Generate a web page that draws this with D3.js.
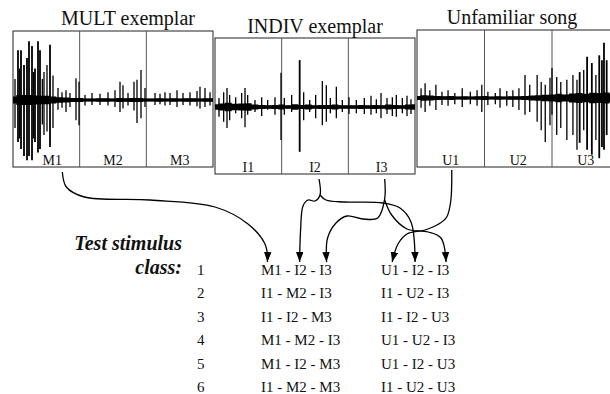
<!DOCTYPE html>
<html><head><meta charset="utf-8">
<script src="https://cdn.jsdelivr.net/npm/d3@7"></script>
<style>
body{margin:0;background:#fff}
svg{display:block}
text{font-family:"Liberation Serif","Times New Roman",serif;fill:#111}
</style>
</head><body>
<svg id="c" width="610" height="394"></svg>
<script>
// ---------- data ----------
const songTitles = ["MULT exemplar", "INDIV exemplar", "Unfamiliar song"];
const segLabels = [["M1","M2","M3"],["I1","I2","I3"],["U1","U2","U3"]];

// spikes: [time (segment units 0..3), upward amplitude, downward amplitude]
const spikesMult = [[.03,.30,.40],[.075,.71,.60],[.10,.45,.55],[.12,.71,.70],[.165,.50,.80],[.21,.60,.86],[.24,.84,.80],[.285,.77,.86],[.31,.40,.55],[.33,.45,.60],[.375,.84,.75],[.405,.71,.70],[.44,.30,.35],[.465,.40,.50],[.51,.50,.45],[.555,.79,.67],[.60,.35,.40],[.675,.17,.14],[.735,.11,.11],[.795,.14,.17],[.855,.10,.10],[.945,.31,.29],[.99,.26,.36],[1.08,.07,.08],[1.185,.10,.07],[1.305,.09,.07],[1.425,.11,.08],[1.53,.14,.10],[1.605,.26,.17],[1.65,.21,.12],[1.725,.10,.08],[1.815,.26,.15],[1.86,.29,.33],[1.92,.43,.26],[1.98,.17,.10],[2.13,.10,.07],[2.205,.09,.06],[2.28,.11,.08],[2.355,.10,.07],[2.46,.14,.10],[2.55,.10,.07],[2.655,.11,.08],[2.76,.13,.09],[2.805,.19,.12],[2.88,.17,.10],[2.955,.11,.08]];
const spikesIndiv = [[.06,.13,.14],[.13,.21,.21],[.18,.27,.30],[.22,.17,.19],[.31,.14,.09],[.40,.20,.16],[.45,.27,.29],[.49,.17,.11],[.60,.10,.07],[.70,.14,.13],[.79,.10,.04],[.90,.14,.11],[.99,.49,.47],[1.04,.13,.11],[1.15,.17,.07],[1.27,.67,.64],[1.33,.21,.19],[1.42,.10,.07],[1.51,.17,.16],[1.61,.37,.26],[1.67,.31,.21],[1.73,.13,.09],[1.82,.29,.16],[1.91,.10,.07],[2.01,.14,.10],[2.12,.10,.09],[2.24,.13,.10],[2.34,.16,.11],[2.42,.11,.09],[2.49,.20,.16],[2.58,.13,.10],[2.66,.14,.13],[2.72,.17,.14],[2.81,.13,.09],[2.88,.16,.13],[2.94,.11,.10]];
const spikesUnfam = [[.06,.14,.14],[.12,.21,.20],[.19,.11,.11],[.28,.19,.17],[.37,.09,.10],[.46,.11,.11],[.56,.07,.09],[.67,.14,.13],[.79,.09,.09],[.89,.11,.11],[.96,.19,.20],[1.05,.09,.10],[1.16,.07,.09],[1.23,.14,.14],[1.33,.10,.11],[1.42,.11,.13],[1.51,.14,.17],[1.60,.33,.24],[1.67,.19,.20],[1.78,.33,.34],[1.84,.23,.46],[1.90,.19,.63],[1.97,.29,.39],[2.00,.43,.24],[2.07,.30,.53],[2.13,.23,.43],[2.22,.26,.60],[2.31,.33,.53],[2.37,.26,.74],[2.41,.37,.64],[2.47,.40,.46],[2.52,.59,.74],[2.59,.50,.81],[2.65,.33,.60],[2.70,.61,.86],[2.74,.54,.70],[2.77,.79,.74],[2.81,.54,.53]];

// envelope of the dense waveform band, sampled every 0.1 segment
const envMult  = [.05,.07,.07,.07,.06,.06,.05,.04,.035,.03,.03,.02,.02,.025,.025,.02,.03,.025,.03,.03,.02,.02,.025,.02,.025,.02,.025,.025,.02,.025,.025];
const envIndiv = [.04,.05,.06,.045,.05,.055,.035,.03,.025,.03,.035,.025,.04,.03,.035,.025,.03,.03,.035,.025,.025,.025,.03,.025,.03,.025,.035,.03,.025,.035,.04];
const envUnfam = [.03,.04,.035,.03,.025,.03,.02,.025,.02,.025,.03,.02,.025,.02,.025,.025,.03,.035,.04,.045,.05,.06,.05,.065,.07,.06,.075,.07,.08,.065,.06];

const classNums = [1,2,3,4,5,6];
const stimMult  = ["M1 - I2 - I3","I1 - M2 - I3","I1 - I2 - M3","M1 - M2 - I3","M1 - I2 - M3","I1 - M2 - M3"];
const stimUnfam = ["U1 - I2 - I3","I1 - U2 - I3","I1 - I2 - U3","U1 - U2 - I3","U1 - I2 - U3","I1 - U2 - U3"];

// ---------- layout ----------
const svg = d3.select("#c");
const panels = [
  {x0:13,  x1:213,   top:31, bottom:167, base:100, tx:128, ty:25, spikes:spikesMult,  env:envMult},
  {x0:215, x1:415,   top:38, bottom:174, base:107, tx:315, ty:33, spikes:spikesIndiv, env:envIndiv},
  {x0:417, x1:619.5, top:30, bottom:167, base:98,  tx:512, ty:24, spikes:spikesUnfam, env:envUnfam}
];
const labelPos = [];
panels.forEach((p, pi) => {
  const xs = d3.scaleLinear().domain([0,3]).range([p.x0, p.x1]);
  const ys = d3.scaleLinear().domain([-1,1]).range([p.base+70, p.base-70]);
  const g = svg.append("g");
  g.append("rect").attr("x",p.x0).attr("y",p.top).attr("width",p.x1-p.x0).attr("height",p.bottom-p.top)
    .attr("fill","#fff").attr("stroke","#222").attr("stroke-width",1);
  [1,2].forEach(k => g.append("line").attr("x1",xs(k)).attr("x2",xs(k)).attr("y1",p.top).attr("y2",p.bottom)
    .attr("stroke", "#555").attr("stroke-width",1));
  const area = d3.area().x((d,i)=>xs(i*0.1)).y0(d=>ys(-d)).y1(d=>ys(d)).curve(d3.curveStep);
  g.append("path").datum(p.env).attr("d",area).attr("fill","#000");
  g.append("line").attr("x1",p.x0).attr("x2",p.x1).attr("y1",ys(0)).attr("y2",ys(0)).attr("stroke","#000").attr("stroke-width",2.5);
  g.selectAll("line.sp").data(p.spikes).join("line").attr("class","sp")
    .attr("x1",d=>xs(d[0])).attr("x2",d=>xs(d[0])).attr("y1",d=>ys(-d[2])).attr("y2",d=>ys(d[1]))
    .attr("stroke","#000").attr("stroke-width",d => (d[1]+d[2]) > 1 ? 1.8 : 1.3);
  svg.append("text").attr("x",p.tx).attr("y",p.ty).attr("text-anchor","middle")
    .attr("font-size",20).text(songTitles[pi]);
  labelPos.push([]);
  segLabels[pi].forEach((l,k) => {
    const x = xs(k+0.5) + (pi===0 && k===0 ? 6 : 0);
    svg.append("text").attr("x",x).attr("y",p.bottom-2).attr("text-anchor","middle").attr("font-size",14).text(l);
    labelPos[pi].push({x:x, y:p.bottom+4});
  });
});

// table
const yRow = d3.scaleLinear().domain([1,6]).range([275,392]);
svg.append("text").attr("x",182).attr("y",250).attr("text-anchor","end").attr("font-size",20)
  .attr("font-weight","bold").attr("font-style","italic").text("Test stimulus");
svg.append("text").attr("x",182).attr("y",274).attr("text-anchor","end").attr("font-size",20)
  .attr("font-weight","bold").attr("font-style","italic").text("class:");
svg.selectAll("text.num").data(classNums).join("text").attr("class","num")
  .attr("x",197).attr("y",d=>yRow(d)).attr("font-size",15).text(d=>d);
const colA = svg.selectAll("text.ca").data(stimMult).join("text").attr("class","ca")
  .attr("x",261).attr("y",(d,i)=>yRow(classNums[i])).attr("font-size",15).text(d=>d);
const colB = svg.selectAll("text.cb").data(stimUnfam).join("text").attr("class","cb")
  .attr("x",381).attr("y",(d,i)=>yRow(classNums[i])).attr("font-size",15).text(d=>d);

function tokenX(node, str, tok, x0){
  const i = str.indexOf(tok);
  const a = i>0 ? node.getSubStringLength(0,i) : 0;
  const w = node.getSubStringLength(i, tok.length);
  return x0 + a + w/2;
}
const nA = colA.nodes()[0], nB = colB.nodes()[0];
const tipY = yRow(1) - 13;
const tA = {M1: tokenX(nA, stimMult[0], "M1", 261)-4, I2: tokenX(nA, stimMult[0], "I2", 261)-1, I3: tokenX(nA, stimMult[0], "I3", 261)+1};
const tB = {U1: tokenX(nB, stimUnfam[0], "U1", 381)+2, I2: tokenX(nB, stimUnfam[0], "I2", 381)-3, I3: tokenX(nB, stimUnfam[0], "I3", 381)+3};

// arrow marker
svg.append("defs").append("marker").attr("id","ah").attr("markerUnits","userSpaceOnUse")
  .attr("markerWidth",11).attr("markerHeight",8).attr("refX",10).attr("refY",3.75).attr("orient","auto")
  .append("path").attr("d","M0,0 L10,3.75 L0,7.5 Z").attr("fill","#000");

const M1 = labelPos[0][0], I2 = labelPos[1][1], I3 = labelPos[1][2], U1 = labelPos[2][0];
const conns = [
  [[M1.x+10, M1.y+1],[M1.x+14,M1.y+16],[M1.x+32,M1.y+26],[150,200],[215,207],[248,224],[tA.M1-2,245],[tA.M1,tipY]],
  [[I2.x+4, I2.y+1],[I2.x+5,I2.y+17],[I2.x,I2.y+23],[I2.x-7,I2.y+22],[I2.x-12,I2.y+28],[tA.I2+1,230],[tA.I2,tipY]],
  [[I2.x+5,I2.y+17],[I2.x+11,I2.y+22],[345,202],[383,203],[400,208],[411,222],[tB.I2,tipY]],
  [[I3.x+3, I3.y+1],[I3.x+3,I3.y+21],[I3.x-4,I3.y+40],[363,219],[347,216],[336,223],[tA.I3+1,238],[tA.I3,tipY]],
  [[I3.x+3,I3.y+22],[I3.x+10,I3.y+37],[407,229],[428,232],[441,238],[tB.I3,tipY]],
  [[U1.x+1, U1.y-1],[U1.x,U1.y+30],[U1.x-4,U1.y+46],[U1.x-12,U1.y+53],[425,230],[407,234],[398,244],[tB.U1,tipY]]
];
const line = d3.line().curve(d3.curveCatmullRom.alpha(0.5));
conns.forEach(c => svg.append("path").attr("d", line(c)).attr("fill","none").attr("stroke","#000")
  .attr("stroke-width",1.3).attr("marker-end","url(#ah)"));
</script>
</body></html>
